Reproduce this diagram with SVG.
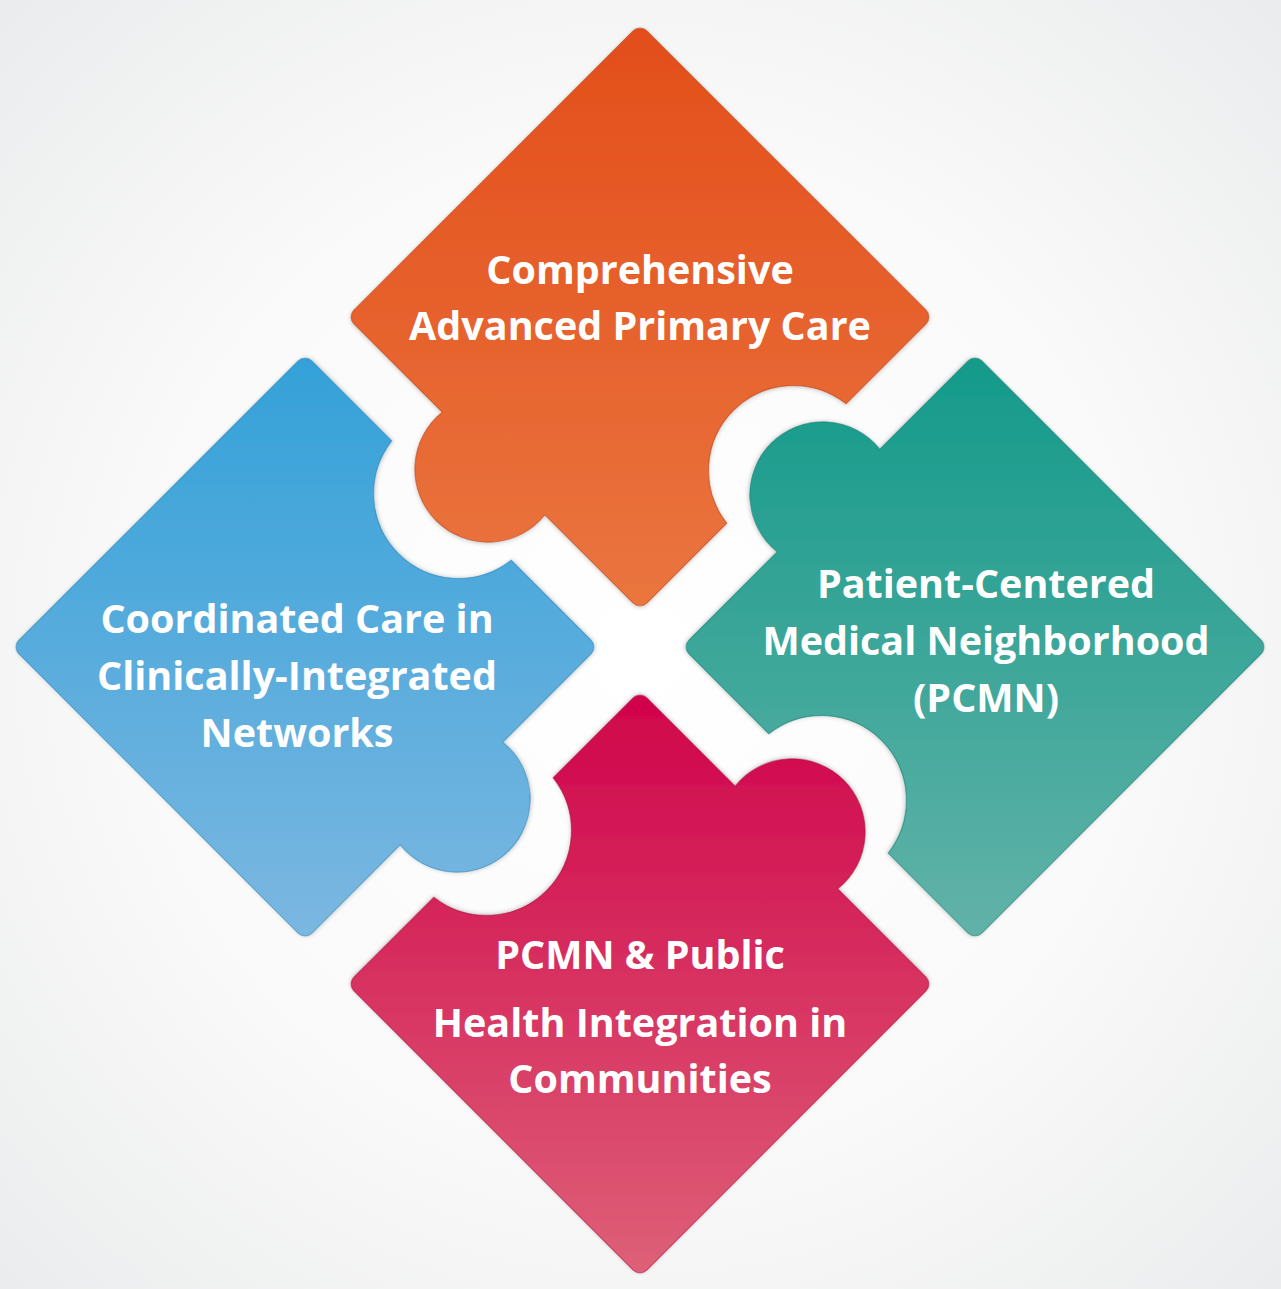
<svg xmlns="http://www.w3.org/2000/svg" width="1281" height="1289" viewBox="0 0 1281 1289">
  <defs>
    <radialGradient id="bg" cx="640" cy="650" r="900" gradientUnits="userSpaceOnUse">
      <stop offset="0" stop-color="#ffffff"/>
      <stop offset="0.55" stop-color="#fafafa"/>
      <stop offset="1" stop-color="#ebeced"/>
    </radialGradient>
    <linearGradient id="gOrange" x1="0" y1="0" x2="0" y2="1">
      <stop offset="0" stop-color="#E34E1B"/>
      <stop offset="1" stop-color="#EA753F"/>
    </linearGradient>
    <linearGradient id="gTeal" x1="0" y1="0" x2="1" y2="0">
      <stop offset="0" stop-color="#149A8A"/>
      <stop offset="1" stop-color="#62B2A8"/>
    </linearGradient>
    <linearGradient id="gPink" x1="0" y1="1" x2="0" y2="0">
      <stop offset="0" stop-color="#D0034B"/>
      <stop offset="1" stop-color="#DE6077"/>
    </linearGradient>
    <linearGradient id="gBlue" x1="1" y1="0" x2="0" y2="0">
      <stop offset="0" stop-color="#34A1D8"/>
      <stop offset="1" stop-color="#7BB7E1"/>
    </linearGradient>
    <filter id="soft" x="-10%" y="-10%" width="120%" height="120%">
      <feDropShadow dx="0" dy="1" stdDeviation="2" flood-color="#000" flood-opacity="0.22"/>
    </filter>
    <path id="piece" d="M 647.07 31.07 L 925.93 309.93 A 10 10 0 0 1 925.93 324.07 L 846.19 403.81 A 85 85 0 0 0 726.81 523.19 L 647.07 602.93 A 10 10 0 0 1 632.93 602.93 L 544.81 514.81 A 73 73 0 1 1 442.19 412.19 L 354.07 324.07 A 10 10 0 0 1 354.07 309.93 L 632.93 31.07 A 10 10 0 0 1 647.07 31.07 Z"/>
  </defs>
  <style>
    .shape { filter: url(#soft); stroke-width: 1.2; stroke-opacity: 0.55; }
    .label { font-family: "Open Sans", "Liberation Sans", sans-serif; font-weight: 700; font-size: 39.5px; fill: #ffffff; text-anchor: middle; }
  </style>

  <rect x="0" y="0" width="1281" height="1289" fill="url(#bg)"/>

  <g id="connectors"></g>

  <g id="node-orange">
    <use href="#piece" class="shape" fill="url(#gOrange)" stroke="#B9461C"/>
    <text class="label" x="640" y="284">Comprehensive</text>
    <text class="label" x="640" y="340">Advanced Primary Care</text>
  </g>

  <g id="node-teal">
    <use href="#piece" class="shape" fill="url(#gTeal)" stroke="#1A7E72" transform="translate(2,-3) rotate(90 640 650)"/>
    <text class="label" x="986" y="598">Patient-Centered</text>
    <text class="label" x="986" y="655">Medical Neighborhood</text>
    <text class="label" x="986" y="712">(PCMN)</text>
  </g>

  <g id="node-pink">
    <use href="#piece" class="shape" fill="url(#gPink)" stroke="#A8153F" transform="translate(0,1) rotate(180 640 650)"/>
    <text class="label" x="640" y="969">PCMN &amp; Public</text>
    <text class="label" x="640" y="1037">Health Integration in</text>
    <text class="label" x="640" y="1093">Communities</text>
  </g>

  <g id="node-blue">
    <use href="#piece" class="shape" fill="url(#gBlue)" stroke="#2B86B8" transform="translate(-2,-3) rotate(-90 640 650)"/>
    <text class="label" x="297" y="633">Coordinated Care in</text>
    <text class="label" x="297" y="690">Clinically-Integrated</text>
    <text class="label" x="297" y="747">Networks</text>
  </g>
</svg>
